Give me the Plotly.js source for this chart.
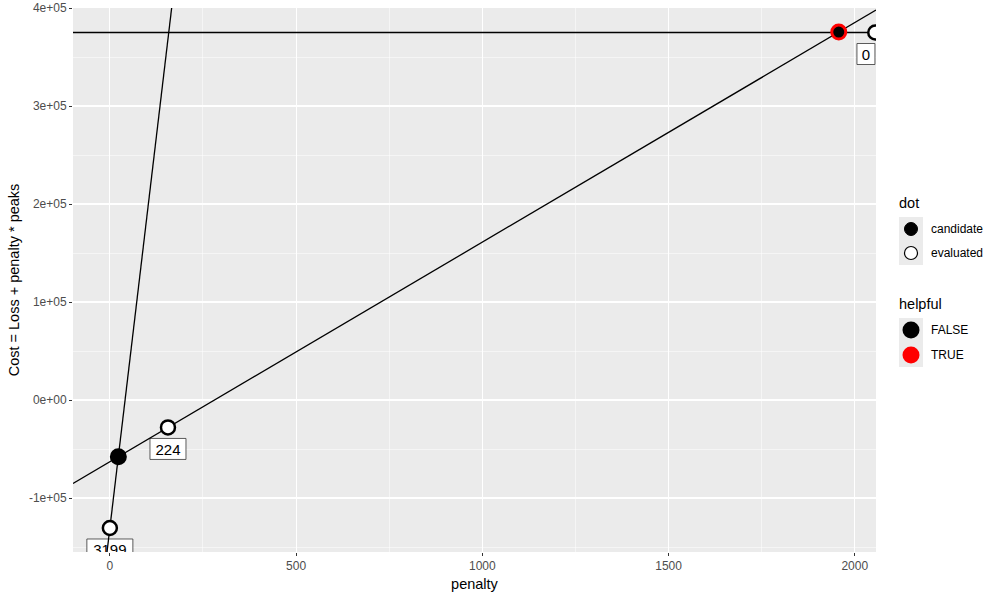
<!DOCTYPE html>
<html>
<head>
<meta charset="utf-8">
<script src="https://cdn.plot.ly/plotly-3.0.1.min.js"></script>
<style>
  html, body { margin: 0; padding: 0; background: #fff; }
  #plot { width: 1000px; height: 600px; }
</style>
</head>
<body>
<div id="plot"></div>
<script>
// lines: cost = loss + penalty * peaks
var peaks = [0, 224, 3199];
var loss = [375000, -62920, -130600];

// evaluated penalties (open dots) with the model size they gave
var evalPenalty = [0, 156, 2055];
var evalCost = [-130600, -28000, 375000];
var evalPeaks = [3199, 224, 0];

// candidate penalties (intersections of lines)
var candPenalty = [22.75, 1957];
var candCost = [-57824, 375448];
var candHelpful = [false, true];

var xRange = [-99, 2057];
var yRange = [-155100, 400000];

var xTicks = [0, 500, 1000, 1500, 2000];
var yTicks = [-100000, 0, 100000, 200000, 300000, 400000];
var yTickText = ["-1e+05", "0e+00", "1e+05", "2e+05", "3e+05", "4e+05"];

var FONT = "Liberation Sans, Arial, sans-serif";

// label nudges (penalty units) and box half widths (px)
var labelNudge = [0, 0, -25];
var boxHalf = [23, 18, 9];
var labelX = evalPenalty.map((p, i) => p + labelNudge[i]);

var traces = [];

// label text (invisible markers push the text below the dot)
traces.push({
    x: labelX,
    y: evalCost,
    type: "scatter",
    mode: "markers+text",
    marker: {size: 24, opacity: 0},
    text: evalPeaks.map(String),
    textposition: "bottom center",
    textfont: {family: FONT, size: 15, color: "black"},
    showlegend: false
});

for (var i = 0; i < peaks.length; i++) {
    traces.push({
        x: xRange,
        y: xRange.map(p => loss[i] + p * peaks[i]),
        type: "scatter",
        mode: "lines",
        line: {color: "black", width: 1.3},
        hoverinfo: "skip",
        showlegend: false
    });
}

traces.push({
    x: evalPenalty,
    y: evalCost,
    type: "scatter",
    mode: "markers",
    marker: {size: 14, color: "white", line: {color: "black", width: 2.5}},
    showlegend: false
});

traces.push({
    x: candPenalty,
    y: candCost,
    type: "scatter",
    mode: "markers",
    marker: {
        size: 14,
        color: "black",
        line: {color: candHelpful.map(h => h ? "red" : "black"), width: 3}
    },
    showlegend: false
});

// plot area in pixels
var L = 73, R = 876, T = 8, B = 552;
function px(x) { return (x - L) / (R - L); }
function py(y) { return (B - y) / (B - T); }

var shapes = [];
var annotations = [];

// label boxes under evaluated dots
evalPeaks.forEach(function(pk, i) {
    shapes.push({
        type: "rect", layer: "between",
        xref: "x", yref: "y",
        xsizemode: "pixel", ysizemode: "pixel",
        xanchor: labelX[i], yanchor: evalCost[i],
        x0: -boxHalf[i], x1: boxHalf[i], y0: -32, y1: -11,
        fillcolor: "white",
        line: {color: "#333", width: 0.8}
    });
});

// legend by hand
function keyBox(y0, y1) {
    shapes.push({
        type: "rect", xref: "paper", yref: "paper",
        x0: px(899), x1: px(923), y0: py(y1), y1: py(y0),
        fillcolor: "#EBEBEB", line: {width: 0}
    });
}
function keyDot(cy, d, fill, stroke, w) {
    shapes.push({
        type: "circle", xref: "paper", yref: "paper",
        xsizemode: "pixel", ysizemode: "pixel",
        xanchor: px(911), yanchor: py(cy),
        x0: -d / 2, x1: d / 2, y0: -d / 2, y1: d / 2,
        fillcolor: fill, line: {color: stroke, width: w}
    });
}
function legText(x, y, txt, size) {
    annotations.push({
        xref: "paper", yref: "paper", x: px(x), y: py(y),
        xanchor: "left", yanchor: "middle", showarrow: false,
        text: txt, font: {family: FONT, size: size, color: "black"}
    });
}

legText(897, 203, "dot", 14.5);
keyBox(217, 265);
keyDot(229, 13, "black", "black", 1);
keyDot(253, 13, "white", "black", 1.2);
legText(929, 229, "candidate", 12);
legText(929, 253, "evaluated", 12);

legText(897, 304, "helpful", 14.5);
keyBox(318, 367);
keyDot(330, 17, "black", "black", 0);
keyDot(355, 17, "red", "red", 0);
legText(929, 330, "FALSE", 12);
legText(929, 355, "TRUE", 12);

var layout = {
    width: 1000,
    height: 600,
    margin: {l: L, r: 1000 - R, t: T, b: 600 - B},
    paper_bgcolor: "white",
    plot_bgcolor: "#EBEBEB",
    font: {family: FONT, color: "black"},
    showlegend: false,
    hovermode: false,
    xaxis: {
        range: xRange,
        tickvals: xTicks,
        ticks: "outside", ticklen: 3, tickcolor: "#333", tickwidth: 1,
        tickfont: {family: FONT, size: 12, color: "#4D4D4D"},
        showgrid: true, gridcolor: "white", gridwidth: 1.1,
        minor: {dtick: 250, tick0: 0, showgrid: true, gridcolor: "white", gridwidth: 0.5, ticks: ""},
        zeroline: false, showline: false,
        title: {text: "penalty", font: {family: FONT, size: 14.5, color: "black"}, standoff: 6},
        automargin: false
    },
    yaxis: {
        range: yRange,
        tickvals: yTicks,
        ticktext: yTickText,
        ticks: "outside", ticklen: 3, tickcolor: "#333", tickwidth: 1,
        tickfont: {family: FONT, size: 12, color: "#4D4D4D"},
        showgrid: true, gridcolor: "white", gridwidth: 1.1,
        minor: {dtick: 50000, tick0: 0, showgrid: true, gridcolor: "white", gridwidth: 0.5, ticks: ""},
        zeroline: false, showline: false,
        title: {text: "Cost = Loss + penalty * peaks", font: {family: FONT, size: 14.5, color: "black"}, standoff: 5},
        automargin: false
    },
    shapes: shapes,
    annotations: annotations
};

Plotly.newPlot("plot", traces, layout, {displayModeBar: false, staticPlot: true});
</script>
</body>
</html>
